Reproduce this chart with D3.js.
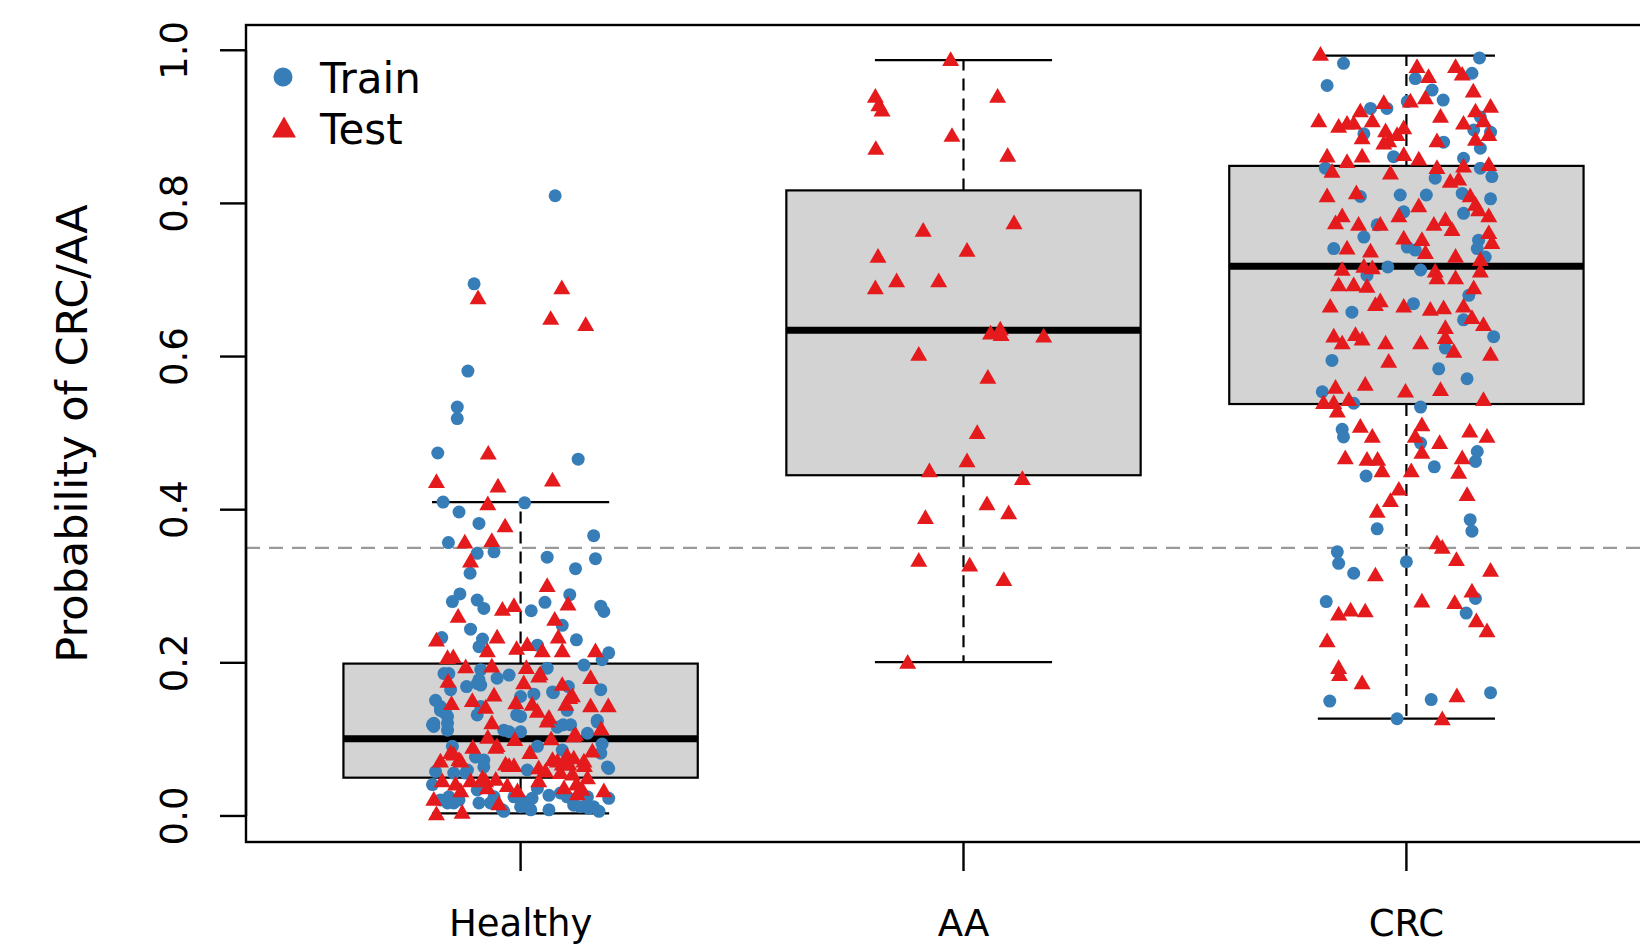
<!DOCTYPE html>
<html>
<head>
<meta charset="utf-8">
<script src="https://cdn.jsdelivr.net/npm/d3@7"></script>
<style>
  body { margin: 0; background: #fff; }
  svg { display: block; font-family: "DejaVu Sans", sans-serif; }
</style>
</head>
<body>
<div id="chart"></div>
<script>
// groups along the x axis
const categories = ["Healthy", "AA", "CRC"];
// lower whisker, Q1, median, Q3, upper whisker
const boxStats = [
  [0.0035, 0.050, 0.101, 0.199, 0.410],
  [0.201, 0.445, 0.6345, 0.817, 0.987],
  [0.127, 0.538, 0.718, 0.849, 0.993]
];
const yTicks = [0, 0.2, 0.4, 0.6, 0.8, 1.0];
const cutoff = 0.35;

// points: [jitter offset in category units, probability]
const healthyTrain = [
  [-0.105,0.695],[-0.119,0.581],[-0.143,0.534],[-0.143,0.519],[-0.187,0.474],[0.130,0.466],[-0.175,0.410],[0.009,0.409],
  [-0.139,0.397],[-0.094,0.382],[0.165,0.366],[-0.163,0.357],[0.078,0.810],
  [-0.098,0.343],[-0.060,0.345],[0.060,0.338],[0.124,0.323],[0.169,0.336],[-0.114,0.317],[-0.154,0.280],[-0.137,0.290],
  [-0.098,0.282],[-0.083,0.271],[0.024,0.268],[0.055,0.279],[0.111,0.289],[0.181,0.274],[0.188,0.267],[0.094,0.249],
  [-0.113,0.244],[-0.178,0.233],[0.126,0.230],[-0.086,0.231],[-0.094,0.221],[0.038,0.223],[0.199,0.213],[0.184,0.204],
  [-0.162,0.186],[-0.090,0.191],[-0.053,0.180],[-0.026,0.184],[0.060,0.193],[0.143,0.197],[-0.122,0.169],[-0.090,0.171],
  [0.108,0.169],[0.181,0.165],[0.000,0.156],[0.030,0.159],[0.074,0.161],[-0.181,0.143],[-0.169,0.134],[-0.098,0.132],
  [-0.009,0.132],[0.173,0.123],[-0.196,0.121],[-0.165,0.121],[0.096,0.119],[-0.026,0.110],[0.000,0.110],[0.083,0.116],
  [0.113,0.119],[-0.154,0.091],[0.184,0.094],[0.038,0.091],[0.094,0.086],[-0.192,0.058],[0.199,0.062],[-0.120,0.060],
  [-0.083,0.064],[0.015,0.060],[-0.199,0.041],[-0.098,0.034],[0.038,0.036],[0.064,0.027],[0.199,0.023],[-0.165,0.017],
  [-0.139,0.021],[-0.068,0.017],[-0.038,0.006],[0.015,0.012],[0.064,0.008],[0.120,0.014],[0.165,0.012],[0.177,0.006],
  [0.151,0.025],[-0.015,0.025],[-0.192,0.151],[-0.174,0.136],[-0.199,0.119],[-0.158,0.165],[-0.165,0.112],
  [-0.181,0.021],[-0.151,0.017],[-0.124,0.056],[-0.102,0.077],[-0.083,0.073],[-0.060,0.025],[-0.041,0.008],[0.000,0.021],
  [0.023,0.008],[0.090,0.030],[0.117,0.021],[0.181,0.082],[0.196,0.064],[0.154,0.010],[-0.038,0.112],[-0.090,0.143],
  [-0.098,0.173],[-0.173,0.186],[-0.165,0.130],[0.000,0.130],[0.072,0.162],[0.105,0.138],[0.173,0.125],
  [-0.094,0.178],[-0.181,0.138],[-0.196,0.117],[0.151,0.108],[0.026,0.023],[0.105,0.025],[0.135,0.012],[-0.151,0.056],
  [-0.162,0.025],[-0.094,0.017],[0.000,0.012]
];
const healthyTest = [
  [-0.096,0.678],[0.093,0.691],[0.068,0.651],[0.147,0.643],[-0.073,0.475],[-0.190,0.438],[-0.051,0.432],[0.072,0.440],
  [-0.074,0.409],[-0.035,0.380],[-0.126,0.359],[-0.065,0.361],
  [-0.113,0.334],[0.060,0.302],[-0.041,0.271],[-0.015,0.276],[-0.141,0.262],[0.107,0.278],[0.077,0.258],[-0.190,0.231],
  [-0.053,0.235],[0.085,0.235],[-0.075,0.217],[-0.009,0.220],[0.015,0.225],[0.049,0.217],[0.094,0.217],[0.169,0.217],
  [-0.165,0.208],[-0.152,0.209],[-0.124,0.196],[-0.065,0.197],[0.013,0.195],[0.044,0.187],[0.158,0.182],[-0.164,0.177],
  [0.007,0.175],[0.094,0.173],[-0.060,0.159],[-0.109,0.152],[0.111,0.156],[-0.156,0.148],[-0.011,0.149],[0.026,0.147],
  [0.102,0.147],[0.158,0.145],[0.198,0.145],[-0.079,0.143],[0.038,0.138],[0.060,0.125],[-0.065,0.123],[0.182,0.115],
  [-0.074,0.104],[-0.013,0.101],[0.069,0.102],[0.124,0.108],[-0.108,0.091],[-0.056,0.091],[-0.158,0.084],[0.162,0.086],
  [0.021,0.084],[-0.181,0.073],[-0.139,0.075],[-0.034,0.069],[-0.015,0.067],[0.072,0.075],[0.094,0.069],[0.120,0.077],
  [0.144,0.067],[0.041,0.064],[0.056,0.060],[0.090,0.058],[-0.113,0.047],[-0.177,0.047],[-0.147,0.043],[-0.079,0.047],
  [-0.056,0.049],[-0.030,0.041],[-0.007,0.034],[0.126,0.043],[0.139,0.036],[0.188,0.034],[0.098,0.038],[-0.196,0.023],
  [-0.049,0.017],[-0.190,0.004],[-0.132,0.006],
  [-0.151,0.082],[-0.026,0.067],[0.083,0.073],[0.109,0.069],[0.143,0.073],[-0.135,0.034],[-0.075,0.038],[0.041,0.047],
  [0.128,0.030],
  [0.041,0.184],[0.064,0.130],[0.117,0.158],[-0.053,0.093],[0.120,0.106],[-0.135,0.073],[0.105,0.080],[-0.086,0.051],
  [0.117,0.056],[0.151,0.051]
];
const aaTest = [
  [-0.029,0.989],[-0.199,0.941],[-0.191,0.930],[-0.184,0.923],[0.077,0.941],[-0.026,0.890],[-0.198,0.873],[0.100,0.864],
  [0.114,0.776],[-0.091,0.766],[0.008,0.740],[-0.193,0.732],[-0.151,0.700],[-0.056,0.700],[-0.199,0.691],[0.061,0.632],
  [0.083,0.637],[0.085,0.630],[0.181,0.628],[-0.101,0.604],[0.055,0.574],[0.031,0.502],[0.008,0.465],[-0.077,0.452],
  [0.133,0.442],[0.053,0.409],[0.102,0.397],[-0.086,0.391],[-0.101,0.335],[0.014,0.329],[0.091,0.310],[-0.126,0.202]
];
const crcTrain = [
  [-0.142,0.983],[0.165,0.990],[-0.179,0.954],[0.020,0.963],[0.148,0.970],[0.058,0.948],[0.083,0.935],[-0.081,0.924],
  [-0.044,0.924],[0.002,0.933],[0.167,0.913],[0.152,0.896],[0.190,0.893],[-0.096,0.891],[0.084,0.880],[0.167,0.872],
  [-0.029,0.861],[0.129,0.859],[-0.183,0.846],[0.167,0.846],[0.193,0.835],[0.065,0.833],[-0.104,0.809],[-0.014,0.811],
  [0.045,0.811],[0.126,0.813],[0.190,0.806],[-0.006,0.789],[0.129,0.787],[-0.066,0.772],[-0.096,0.756],[-0.164,0.741],
  [0.002,0.743],[0.020,0.739],[0.163,0.752],[0.160,0.741],[0.178,0.730],[-0.042,0.717],[0.032,0.713],[-0.089,0.706],
  [0.141,0.680],[0.016,0.669],[-0.123,0.658],[0.129,0.648],[0.197,0.626],[0.088,0.611],[-0.168,0.595],[0.073,0.584],
  [0.137,0.571],[-0.190,0.554],[-0.119,0.539],[0.032,0.534],
  [-0.145,0.505],[-0.142,0.495],[0.032,0.487],[0.160,0.476],[0.156,0.463],[0.063,0.456],[-0.091,0.444],[0.144,0.387],
  [0.148,0.372],[-0.066,0.375],[-0.156,0.345],[-0.153,0.330],[0.000,0.332],[-0.119,0.317],[-0.181,0.280],[0.156,0.284],
  [0.135,0.265],[-0.173,0.150],[0.056,0.152],[0.190,0.161],[-0.021,0.127]
];
const crcTest = [
  [-0.194,0.996],[0.024,0.980],[0.050,0.967],[0.111,0.980],[0.126,0.970],[0.151,0.948],[0.043,0.939],[0.009,0.935],
  [-0.051,0.933],[0.156,0.922],[0.190,0.928],[0.077,0.915],[0.174,0.909],[0.129,0.906],[-0.198,0.909],[-0.153,0.902],
  [-0.134,0.906],[-0.119,0.906],[-0.104,0.922],[-0.077,0.909],[-0.100,0.887],[-0.047,0.896],[-0.040,0.883],[-0.021,0.891],
  [-0.006,0.900],[-0.051,0.880],[0.069,0.883],[0.156,0.885],[0.186,0.891],[-0.179,0.863],[-0.134,0.856],[-0.100,0.863],
  [-0.006,0.865],[0.028,0.859],[-0.168,0.843],[-0.036,0.841],[0.069,0.848],[0.129,0.850],[0.186,0.852],[0.099,0.830],
  [0.118,0.833],[-0.179,0.811],[-0.113,0.815],[0.028,0.798],[0.144,0.811],[0.156,0.800],[0.163,0.793],[0.186,0.785],
  [-0.160,0.776],[-0.145,0.785],[-0.108,0.774],[-0.059,0.774],[-0.017,0.785],[0.062,0.774],[0.088,0.780],[0.103,0.767],
  [0.186,0.763],[-0.006,0.756],[0.035,0.754],[0.193,0.750],[-0.134,0.743],[-0.081,0.739],[0.043,0.737],[0.111,0.732],
  [0.167,0.728],[-0.145,0.715],[-0.096,0.719],[-0.077,0.717],[0.065,0.713],[0.111,0.704],[0.167,0.713],[-0.153,0.695],
  [-0.119,0.695],[-0.089,0.693],[0.069,0.704],[0.152,0.691],[-0.172,0.667],[-0.070,0.669],[-0.006,0.667],[0.054,0.663],
  [0.084,0.665],[0.129,0.667],[-0.059,0.674],[0.148,0.652],[0.174,0.643],[0.088,0.639],[-0.164,0.628],[-0.145,0.619],
  [-0.115,0.630],[-0.100,0.624],[-0.047,0.619],[0.032,0.619],[0.088,0.626],[0.107,0.608],[0.190,0.604],[-0.040,0.595],
  [-0.160,0.561],[-0.093,0.565],[-0.002,0.556],[0.077,0.558],[-0.187,0.541],[-0.130,0.545],[0.174,0.545],[-0.156,0.530],
  [-0.164,0.541],
  [0.035,0.512],[0.020,0.497],[0.035,0.476],[-0.104,0.510],[-0.077,0.497],[0.075,0.489],[0.143,0.504],[0.182,0.497],
  [-0.138,0.469],[-0.089,0.467],[-0.065,0.467],[-0.055,0.452],[0.011,0.452],[0.126,0.469],[0.118,0.450],[-0.017,0.428],
  [-0.036,0.413],[0.137,0.421],[-0.066,0.399],[0.069,0.358],[0.081,0.352],[0.113,0.336],[0.190,0.322],[-0.070,0.316],
  [0.148,0.295],[0.035,0.282],[0.109,0.280],[-0.153,0.265],[-0.126,0.270],[-0.093,0.269],[0.158,0.256],[0.182,0.243],
  [-0.179,0.230],[-0.153,0.195],[-0.151,0.186],[-0.100,0.175],[0.114,0.158],[0.081,0.128]
];

const trainPts = [healthyTrain, [], crcTrain];
const testPts = [healthyTest, aaTest, crcTest];

const width = 1640, height = 945;
const blue = "#377EB8", red = "#E41A1C";

const svg = d3.select("#chart").append("svg")
    .attr("width", width)
    .attr("height", height);
svg.append("rect").attr("width", width).attr("height", height).attr("fill", "#fff");

const x = d3.scaleLinear().domain([0.38, 3.62]).range([246, 1681]);
const y = d3.scaleLinear().domain([-0.034, 1.033]).range([842, 25]);

function tri(cx, cy, s) {
    var h = s * 0.866;
    return "M" + cx + "," + (cy - h / 2) + "L" + (cx - s / 2) + "," + (cy + h / 2) + "L" + (cx + s / 2) + "," + (cy + h / 2) + "Z";
}

// boxes
var boxes = svg.append("g").attr("id", "boxes");
boxStats.forEach(function(b, i) {
    var c = i + 1;
    var g = boxes.append("g");
    // whiskers
    g.append("line").attr("x1", x(c)).attr("x2", x(c)).attr("y1", y(b[3])).attr("y2", y(b[4]))
        .attr("stroke", "#000").attr("stroke-width", 2.2).attr("stroke-dasharray", "12,8");
    g.append("line").attr("x1", x(c)).attr("x2", x(c)).attr("y1", y(b[1])).attr("y2", y(b[0]))
        .attr("stroke", "#000").attr("stroke-width", 2.2).attr("stroke-dasharray", "12,8");
    // staples
    [b[0], b[4]].forEach(function(v) {
        g.append("line").attr("x1", x(c - 0.2)).attr("x2", x(c + 0.2)).attr("y1", y(v)).attr("y2", y(v))
            .attr("stroke", "#000").attr("stroke-width", 2.2);
    });
    g.append("rect")
        .attr("x", x(c - 0.4)).attr("width", x(c + 0.4) - x(c - 0.4))
        .attr("y", y(b[3])).attr("height", y(b[1]) - y(b[3]))
        .attr("fill", "#d3d3d3").attr("stroke", "#000").attr("stroke-width", 2.2);
    g.append("line").attr("x1", x(c - 0.4)).attr("x2", x(c + 0.4)).attr("y1", y(b[2])).attr("y2", y(b[2]))
        .attr("stroke", "#000").attr("stroke-width", 7);
});

// cutoff line
svg.append("line")
    .attr("x1", x.range()[0]).attr("x2", x.range()[1])
    .attr("y1", y(cutoff)).attr("y2", y(cutoff))
    .attr("stroke", "#9a9a9a").attr("stroke-width", 2.2).attr("stroke-dasharray", "14,9");

// points
var pts = svg.append("g").attr("id", "points");
trainPts.forEach(function(list, i) {
    pts.selectAll(null).data(list).enter().append("circle")
        .attr("cx", function(d) { return x(i + 1 + d[0]); })
        .attr("cy", function(d) { return y(d[1]); })
        .attr("r", 6.5)
        .attr("fill", blue);
});
testPts.forEach(function(list, i) {
    pts.selectAll(null).data(list).enter().append("path")
        .attr("d", function(d) { return tri(x(i + 1 + d[0]), y(d[1]), 17); })
        .attr("fill", red);
});

// frame
svg.append("rect")
    .attr("x", 246).attr("y", 25)
    .attr("width", x.range()[1] - 246).attr("height", 842 - 25)
    .attr("fill", "none").attr("stroke", "#000").attr("stroke-width", 2.4);

// y axis
var ya = svg.append("g").attr("id", "yaxis");
ya.append("line").attr("x1", 246).attr("x2", 246).attr("y1", y(0)).attr("y2", y(1))
    .attr("stroke", "#000").attr("stroke-width", 2.4);
yTicks.forEach(function(t) {
    ya.append("line").attr("x1", 220).attr("x2", 246).attr("y1", y(t)).attr("y2", y(t))
        .attr("stroke", "#000").attr("stroke-width", 2.4);
    ya.append("text")
        .attr("transform", "translate(187," + y(t) + ") rotate(-90)")
        .attr("text-anchor", "middle")
        .style("font-size", "37px")
        .text(t.toFixed(1));
});
svg.append("text")
    .attr("transform", "translate(87," + ((25 + 842) / 2) + ") rotate(-90)")
    .attr("text-anchor", "middle")
    .style("font-size", "43px")
    .text("Probability of CRC/AA");

// x axis
var xa = svg.append("g").attr("id", "xaxis");
categories.forEach(function(name, i) {
    xa.append("line").attr("x1", x(i + 1)).attr("x2", x(i + 1)).attr("y1", 842).attr("y2", 871)
        .attr("stroke", "#000").attr("stroke-width", 2.4);
    xa.append("text")
        .attr("x", x(i + 1)).attr("y", 936)
        .attr("text-anchor", "middle")
        .style("font-size", "37px")
        .text(name);
});

// legend
var leg = svg.append("g").attr("id", "legend");
leg.append("circle").attr("cx", 283).attr("cy", 77).attr("r", 9.5).attr("fill", blue);
leg.append("path").attr("d", tri(284, 127, 24)).attr("fill", red);
leg.append("text").attr("x", 320).attr("y", 93).style("font-size", "42px").text("Train");
leg.append("text").attr("x", 320).attr("y", 144).style("font-size", "42px").text("Test");
</script>
</body>
</html>
